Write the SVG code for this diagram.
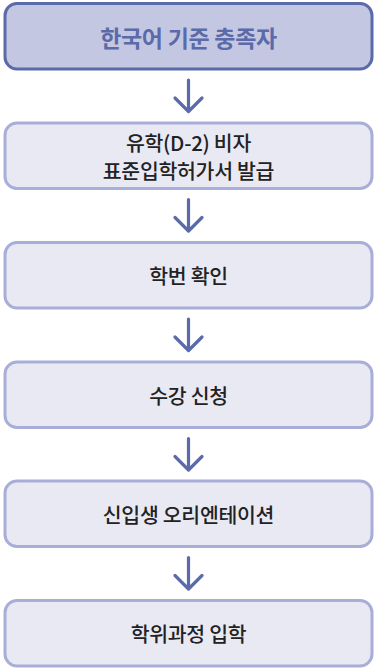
<svg xmlns="http://www.w3.org/2000/svg" width="374" height="671" viewBox="0 0 374 671">
<style>
.box{fill:#e9e9f4;stroke:#a9aed8;stroke-width:3}
.top{fill:#c3c7e2;stroke:#5b6aa8;stroke-width:3}
.t{font-family:"Noto Sans CJK KR","Noto Sans",sans-serif;font-size:20.5px;font-weight:500;fill:#222;text-anchor:middle;dominant-baseline:central;letter-spacing:-0.3px}
.tt{font-family:"Noto Sans CJK KR","Noto Sans",sans-serif;font-size:23px;font-weight:700;fill:#5b6aa8;text-anchor:middle;dominant-baseline:central;letter-spacing:-0.3px}
.arr{fill:none;stroke:#5b6aa8;stroke-width:3.2;stroke-linecap:round;stroke-linejoin:round}
</style>
<rect width="374" height="671" fill="#fff"/>
<g id="n1"><rect class="top" x="5" y="3.5" width="367" height="65.5" rx="12"/><text class="tt" x="188.5" y="37">한국어 기준 충족자</text></g>
<g id="n2"><rect class="box" x="5" y="123" width="367" height="65.5" rx="12"/><text class="t" x="188.5" y="141.5">유학(D-2) 비자</text><text class="t" x="188.5" y="170">표준입학허가서 발급</text></g>
<g id="n3"><rect class="box" x="5" y="242.5" width="367" height="65.5" rx="12"/><text class="t" x="188.5" y="275">학번 확인</text></g>
<g id="n4"><rect class="box" x="5" y="362" width="367" height="65.5" rx="12"/><text class="t" x="188.5" y="395">수강 신청</text></g>
<g id="n5"><rect class="box" x="5" y="481" width="367" height="65.5" rx="12"/><text class="t" x="188.5" y="514">신입생 오리엔테이션</text></g>
<g id="n6"><rect class="box" x="5" y="600.5" width="367" height="65.5" rx="12"/><text class="t" x="188.5" y="633">학위과정 입학</text></g>
<g id="connectors">
<path class="arr" d="M188.5 80 V111 M175 98 L188.5 111.5 L202 98"/>
<path class="arr" d="M188.5 199.5 V230.5 M175 217.5 L188.5 231 L202 217.5"/>
<path class="arr" d="M188.5 319 V350 M175 337 L188.5 350.5 L202 337"/>
<path class="arr" d="M188.5 438.5 V469.5 M175 456.5 L188.5 470 L202 456.5"/>
<path class="arr" d="M188.5 557.5 V588.5 M175 575.5 L188.5 589 L202 575.5"/>
</g>
</svg>
